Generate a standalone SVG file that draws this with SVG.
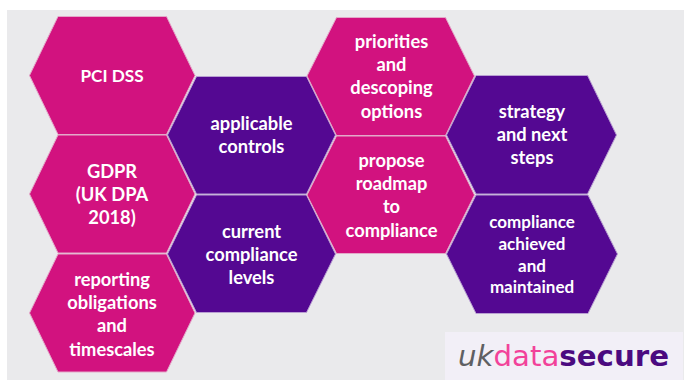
<svg xmlns="http://www.w3.org/2000/svg" width="684" height="380" viewBox="0 0 684 380">
<style>
.p{fill:#d2127f;stroke:#e3a9c9;stroke-width:1}
.v{fill:#540892;stroke:#b9a0d2;stroke-width:1}
.t{font-family:"Lato","Open Sans",sans-serif;font-weight:700;font-size:18.3px;fill:#fff;text-anchor:middle}
.s{font-size:17px}
.l{font-family:"DejaVu Sans",sans-serif;font-size:28px}
</style>
<rect width="684" height="380" fill="#fff"/>
<rect x="7" y="10" width="677" height="370" fill="#eaeaec"/>
<g id="pci-dss"><polygon class="p" points="58,16.5 166.5,16.5 195,75.5 166.5,134.5 58,134.5 29.5,75.5"/><text class="t" x="112" y="82" style="font-size:17.2px">PCI DSS</text></g>
<g id="gdpr"><polygon class="p" points="58,135 166.5,135 195,194 166.5,253 58,253 29.5,194"/><text class="t" x="112" y="178">GDPR</text><text class="t" x="112" y="201">(UK DPA</text><text class="t" x="112" y="224">2018)</text></g>
<g id="reporting"><polygon class="p" points="58,254 166.5,254 195,313 166.5,372 58,372 29.5,313"/><text class="t" x="112" y="286">reporting</text><text class="t" x="112" y="309">obligations</text><text class="t" x="112" y="332">and</text><text class="t" x="112" y="356">timescales</text></g>
<g id="applicable"><polygon class="v" points="196.5,76.5 306.5,76.5 335.5,135 306.5,194 196.5,194 167.5,135"/><text class="t" x="251.5" y="130">applicable</text><text class="t" x="251.5" y="153">controls</text></g>
<g id="current"><polygon class="v" points="196.5,195 306.5,195 335.5,254 306.5,312.5 196.5,312.5 167.5,254"/><text class="t" x="251.5" y="238">current</text><text class="t" x="251.5" y="261">compliance</text><text class="t" x="251.5" y="284">levels</text></g>
<g id="priorities"><polygon class="p" points="336.5,17.5 445.5,17.5 474.5,76 445.5,135.5 336.5,135.5 307,76"/><text class="t" x="391.5" y="48">priorities</text><text class="t" x="391.5" y="71">and</text><text class="t" x="391.5" y="94">descoping</text><text class="t" x="391.5" y="118">options</text></g>
<g id="propose"><polygon class="p" points="336.5,136 445.5,136 474.5,195 445.5,253.5 336.5,253.5 307,195"/><text class="t" x="391.5" y="167">propose</text><text class="t" x="391.5" y="190">roadmap</text><text class="t" x="391.5" y="213">to</text><text class="t" x="391.5" y="237">compliance</text></g>
<g id="strategy"><polygon class="v" points="476,75.5 587.5,75.5 616.5,135 587.5,194 476,194 446.5,135"/><text class="t" x="532" y="118">strategy</text><text class="t" x="532" y="141">and next</text><text class="t" x="532" y="164">steps</text></g>
<g id="achieved"><polygon class="v" points="476,195 588,195 617.5,254 588,313.5 476,313.5 446.5,254"/><text class="t s" x="532" y="228">compliance</text><text class="t s" x="532" y="250">achieved</text><text class="t s" x="532" y="272">and</text><text class="t s" x="532" y="293">maintained</text></g>
<g id="logo"><rect x="445" y="332" width="238" height="48" fill="#f2eff7"/><text class="l" x="458" y="366" textLength="211" lengthAdjust="spacingAndGlyphs"><tspan fill="#5f5f63" font-style="italic">uk</tspan><tspan fill="#f2429a">data</tspan><tspan fill="#4b0a80" font-weight="700">secure</tspan></text></g>
<g id="connectors"></g>
</svg>
